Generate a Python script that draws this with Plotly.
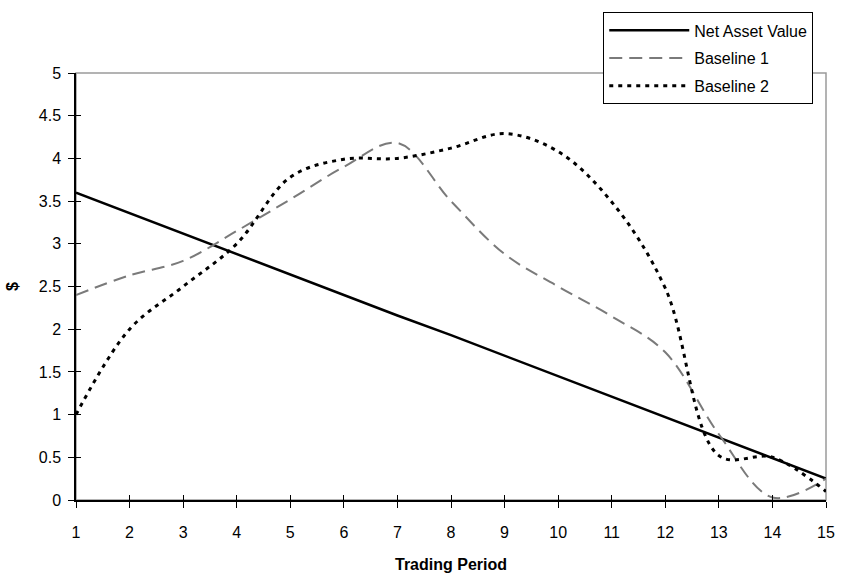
import plotly.graph_objects as go

periods = list(range(1, 16))
nav = [3.60, 3.36, 3.12, 2.88, 2.64, 2.40, 2.16, 1.93, 1.69, 1.45, 1.21, 0.97, 0.73, 0.49, 0.25]
baseline1 = [2.40, 2.63, 2.80, 3.15, 3.52, 3.90, 4.18, 3.50, 2.88, 2.50, 2.15, 1.73, 0.77, 0.03, 0.25]
baseline2 = [1.00, 2.00, 2.50, 3.00, 3.78, 3.99, 4.00, 4.12, 4.29, 4.08, 3.49, 2.48, 0.52, 0.50, 0.10]
y_ticks = [0, 0.5, 1, 1.5, 2, 2.5, 3, 3.5, 4, 4.5, 5]
y_tick_text = ["0", "0.5", "1", "1.5", "2", "2.5", "3", "3.5", "4", "4.5", "5"]

FONT = "Liberation Sans, Arial, sans-serif"

fig = go.Figure()
fig.add_trace(go.Scatter(x=periods, y=nav, mode="lines", name="Net Asset Value", legendgroup="a",
                         line=dict(color="black", width=2.5)))
fig.add_trace(go.Scatter(x=periods, y=baseline1, mode="lines", name="Baseline 1", legendgroup="b",
                         line=dict(color="#7a7a7a", width=2, dash="13px,7px", shape="spline", smoothing=1.0)))
fig.add_trace(go.Scatter(x=periods, y=baseline2, mode="lines", name="Baseline 2", legendgroup="c",
                         line=dict(color="black", width=3, dash="4px,5px", shape="spline", smoothing=1.0)))
# invisible trace to carry the overlay axes (inner half of crossing ticks)
fig.add_trace(go.Scatter(x=periods, y=nav, mode="lines", xaxis="x2", yaxis="y2",
                         line=dict(color="rgba(0,0,0,0)"), showlegend=False, hoverinfo="skip"))

fig.update_layout(
    width=847, height=583,
    margin=dict(l=72, r=12, t=71, b=77),
    paper_bgcolor="white", plot_bgcolor="white",
    font=dict(family=FONT, size=16, color="black"),
    showlegend=True,
    legend=dict(x=0.983, y=1.142, xanchor="right", yanchor="top",
                bgcolor="white", bordercolor="black", borderwidth=1,
                font=dict(family=FONT, size=16, color="black"),
                traceorder="grouped", tracegroupgap=4, itemwidth=80),
    xaxis=dict(range=[1, 15], tickmode="array", tickvals=periods,
               ticktext=[str(p) for p in periods],
               showgrid=False, zeroline=False, showline=True, linecolor="black", linewidth=1.5,
               ticks="outside", ticklen=6, tickcolor="black", tickwidth=1,
               ticklabelstandoff=11,
               tickfont=dict(family=FONT, size=16),
               title=dict(text="<b>Trading Period</b>", font=dict(family=FONT, size=16), standoff=19)),
    yaxis=dict(range=[0, 5], tickmode="array", tickvals=y_ticks, ticktext=y_tick_text,
               showgrid=False, zeroline=False, showline=True, linecolor="black", linewidth=1.5,
               ticks="outside", ticklen=6, tickcolor="black", tickwidth=1,
               ticklabelstandoff=4,
               tickfont=dict(family=FONT, size=16),
               title=dict(text="<b>$</b>", font=dict(family=FONT, size=16), standoff=16)),
    xaxis2=dict(range=[1, 15], overlaying="x", anchor="y2", tickmode="array", tickvals=periods,
                showticklabels=False, showgrid=False, zeroline=False, showline=False,
                ticks="inside", ticklen=5, tickcolor="black", tickwidth=1),
    yaxis2=dict(range=[0, 5], overlaying="y", anchor="x2", tickmode="array", tickvals=y_ticks,
                showticklabels=False, showgrid=False, zeroline=False, showline=False,
                ticks="inside", ticklen=5, tickcolor="black", tickwidth=1),
    shapes=[dict(type="rect", xref="paper", yref="paper", x0=0, x1=1, y0=0, y1=1,
                 line=dict(color="#9a9a9a", width=1.5), layer="below")],
)

fig.write_html("out.html", config={"displayModeBar": False},
               post_script="document.body.style.margin='0';")
